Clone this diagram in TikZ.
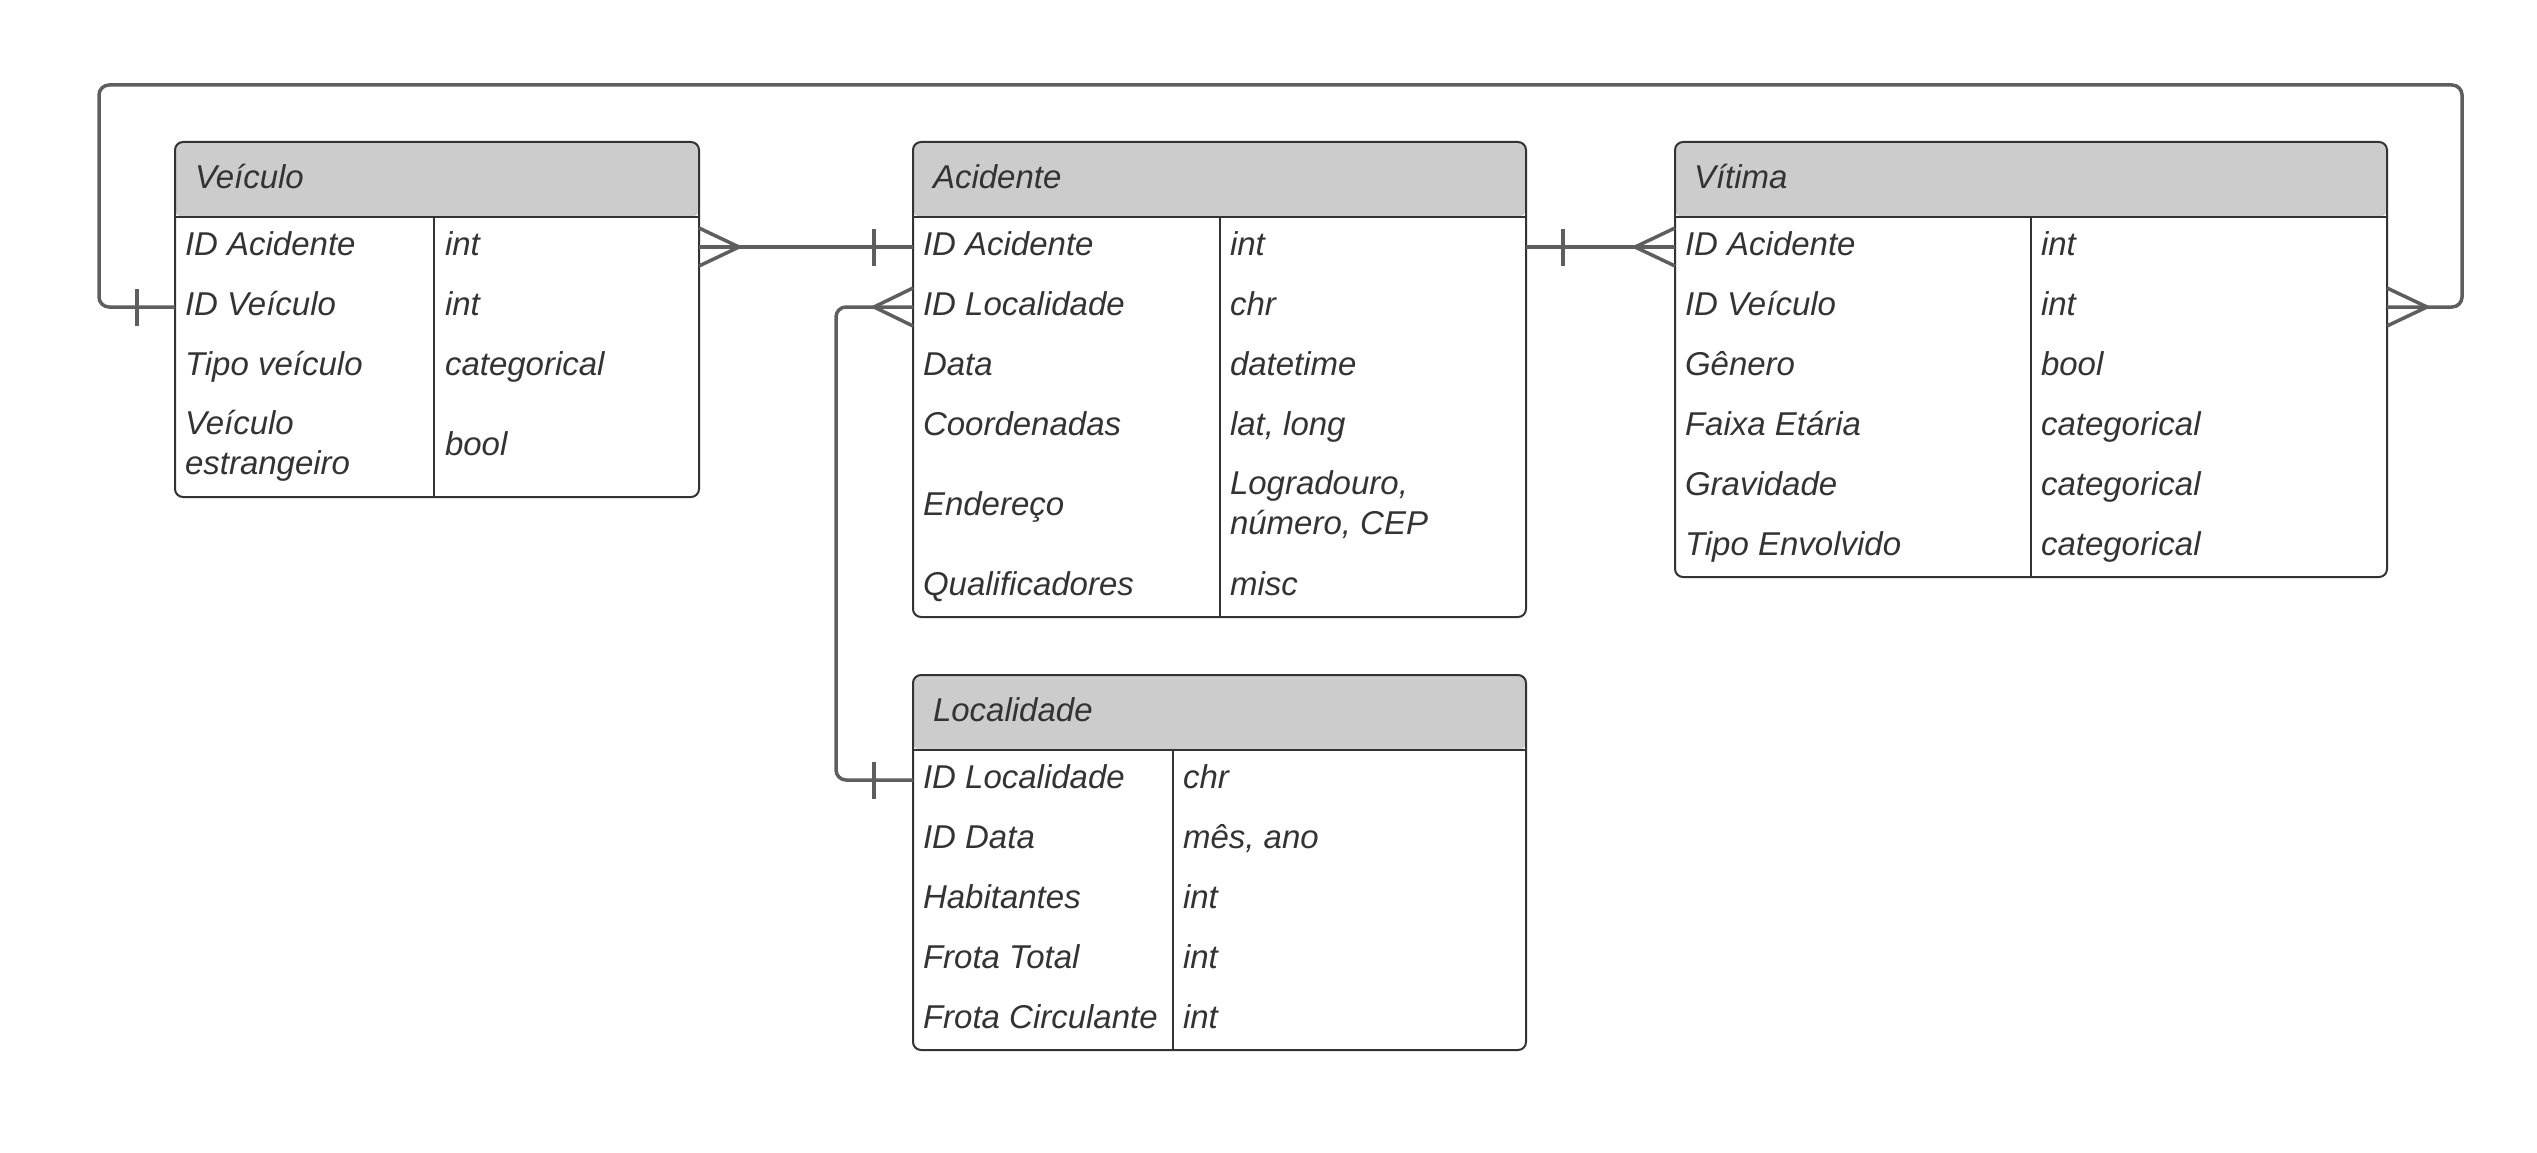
\documentclass[tikz,border=0pt]{standalone}
\usepackage{fontspec}
\setmainfont{Liberation Sans}
\usetikzlibrary{calc}
\definecolor{boxc}{HTML}{333333}
\definecolor{headc}{HTML}{CCCCCC}
\definecolor{connc}{HTML}{5E5E5E}
\definecolor{txtc}{HTML}{333333}
\newcommand{\tabfont}{\fontsize{33}{40}\selectfont\itshape}
\begin{document}
\begin{tikzpicture}[x=1pt,y=-1pt,
  tbl/.style={draw=boxc, line width=2pt, rounded corners=8pt, anchor=north west,
    inner sep=0pt, outer sep=0pt,
    path picture={\fill[headc] (path picture bounding box.north west) rectangle ([yshift=-75pt]path picture bounding box.north east);}},
  sepline/.style={draw=boxc, line width=2pt},
  lbl/.style={anchor=base west, inner sep=0pt, outer sep=0pt, text=txtc, font=\tabfont},
  conn/.style={draw=connc, line width=3.5pt, rounded corners=10pt},
  tick/.style={draw=connc, line width=3.5pt}]
\useasboundingbox (0,0) rectangle (2537,1153);

% ---------- Veiculo ----------
\node[tbl, minimum width=524pt, minimum height=355pt] (veic) at (175,142) {};
\draw[sepline] (175,217) -- (699,217);
\draw[sepline] (434,217) -- (434,497);
\node[lbl] (vh) at (195,188) {Veículo};
\node[lbl] (v1a) at (185,255.5) {ID Acidente};
\node[lbl] (v1b) at (445,255.5) {int};
\node[lbl] (v2a) at (185,315.5) {ID Veículo};
\node[lbl] (v2b) at (445,315.5) {int};
\node[lbl] (v3a) at (185,375.5) {Tipo veículo};
\node[lbl] (v3b) at (445,375.5) {categorical};
\node[lbl] (v4a) at (185,434.5) {Veículo};
\node[lbl] (v4c) at (185,474.5) {estrangeiro};
\node[lbl] (v4b) at (445,455.5) {bool};

% ---------- Acidente ----------
\node[tbl, minimum width=613pt, minimum height=475pt] (acid) at (913,142) {};
\draw[sepline] (913,217) -- (1526,217);
\draw[sepline] (1220,217) -- (1220,617);
\node[lbl] (ah) at (933,188) {Acidente};
\node[lbl] (a1a) at (923,255.5) {ID Acidente};
\node[lbl] (a1b) at (1230,255.5) {int};
\node[lbl] (a2a) at (923,315.5) {ID Localidade};
\node[lbl] (a2b) at (1230,315.5) {chr};
\node[lbl] (a3a) at (923,375.5) {Data};
\node[lbl] (a3b) at (1230,375.5) {datetime};
\node[lbl] (a4a) at (923,435.5) {Coordenadas};
\node[lbl] (a4b) at (1230,435.5) {lat, long};
\node[lbl] (a5a) at (923,515.5) {Endereço};
\node[lbl] (a5b) at (1230,494.5) {Logradouro,};
\node[lbl] (a5c) at (1230,534.5) {número, CEP};
\node[lbl] (a6a) at (923,595.5) {Qualificadores};
\node[lbl] (a6b) at (1230,595.5) {misc};

% ---------- Vitima ----------
\node[tbl, minimum width=712pt, minimum height=435pt] (vit) at (1675,142) {};
\draw[sepline] (1675,217) -- (2387,217);
\draw[sepline] (2031,217) -- (2031,577);
\node[lbl] (th) at (1694,188) {Vítima};
\node[lbl] (t1a) at (1685,255.5) {ID Acidente};
\node[lbl] (t1b) at (2041,255.5) {int};
\node[lbl] (t2a) at (1685,315.5) {ID Veículo};
\node[lbl] (t2b) at (2041,315.5) {int};
\node[lbl] (t3a) at (1685,375.5) {Gênero};
\node[lbl] (t3b) at (2041,375.5) {bool};
\node[lbl] (t4a) at (1685,435.5) {Faixa Etária};
\node[lbl] (t4b) at (2041,435.5) {categorical};
\node[lbl] (t5a) at (1685,495.5) {Gravidade};
\node[lbl] (t5b) at (2041,495.5) {categorical};
\node[lbl] (t6a) at (1685,555.5) {Tipo Envolvido};
\node[lbl] (t6b) at (2041,555.5) {categorical};

% ---------- Localidade ----------
\node[tbl, minimum width=613pt, minimum height=375pt] (loc) at (913,675) {};
\draw[sepline] (913,750) -- (1526,750);
\draw[sepline] (1173,750) -- (1173,1050);
\node[lbl] (lh) at (933,721) {Localidade};
\node[lbl] (l1a) at (923,788.5) {ID Localidade};
\node[lbl] (l1b) at (1183,788.5) {chr};
\node[lbl] (l2a) at (923,848.5) {ID Data};
\node[lbl] (l2b) at (1183,848.5) {mês, ano};
\node[lbl] (l3a) at (923,908.5) {Habitantes};
\node[lbl] (l3b) at (1183,908.5) {int};
\node[lbl] (l4a) at (923,968.5) {Frota Total};
\node[lbl] (l4b) at (1183,968.5) {int};
\node[lbl] (l5a) at (923,1028.5) {Frota Circulante};
\node[lbl] (l5b) at (1183,1028.5) {int};

% ---------- helper coordinates ----------
\coordinate (y247) at (0,247);
\coordinate (y307) at (0,307);
\coordinate (y780) at (0,780);
\coordinate (lx) at (836,0);
\coordinate (lp) at (99,85);
\coordinate (rp) at (2462,85);

% Veiculo -- Acidente
\draw[conn] (veic.east |- y247) -- (acid.west |- y247);
\draw[tick] ($(veic.east |- y247)+(0,-19)$) -- ++(40,19) -- ++(-40,19);
\draw[tick] ($(acid.west |- y247)+(-39,-18.5)$) -- ++(0,37);

% Acidente -- Vitima
\draw[conn] (acid.east |- y247) -- (vit.west |- y247);
\draw[tick] ($(acid.east |- y247)+(37,-18.5)$) -- ++(0,37);
\draw[tick] ($(vit.west |- y247)+(0,-19)$) -- ++(-40,19) -- ++(40,19);

% Acidente -- Localidade
\draw[conn] (acid.west |- y307) -- (lx |- y307) -- (lx |- y780) -- (loc.west |- y780);
\draw[tick] ($(acid.west |- y307)+(0,-19)$) -- ++(-39,19) -- ++(39,19);
\draw[tick] ($(loc.west |- y780)+(-39,-18.5)$) -- ++(0,37);

% Veiculo -- Vitima
\draw[conn] (veic.west |- y307) -- (lp |- y307) -- (lp) -- (rp) -- (rp |- y307) -- (vit.east |- y307);
\draw[tick] ($(veic.west |- y307)+(-38,-18.5)$) -- ++(0,37);
\draw[tick] ($(vit.east |- y307)+(0,-19)$) -- ++(40,19) -- ++(-40,19);
\end{tikzpicture}
\end{document}
